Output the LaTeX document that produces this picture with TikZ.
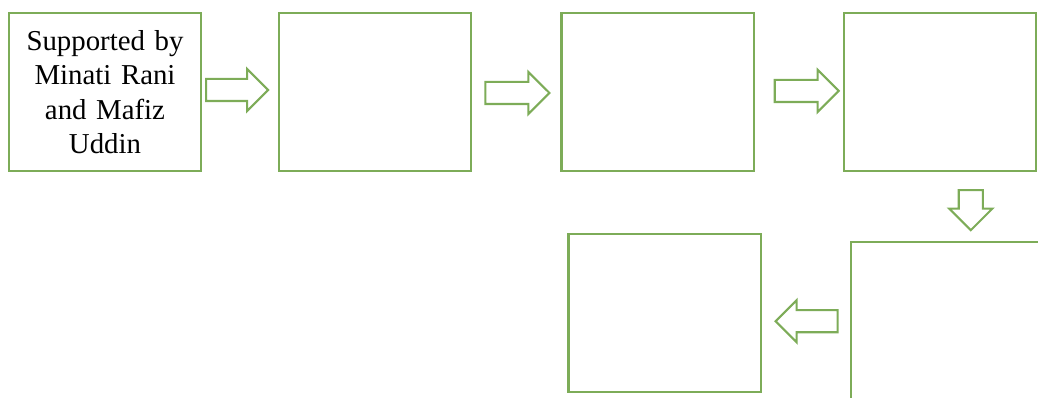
\documentclass[tikz,border=0pt]{standalone}
\usepackage{fontspec}
\setmainfont{Liberation Serif}
\usetikzlibrary{positioning,calc,shapes.arrows}
\definecolor{leaf}{RGB}{125,172,88}

\begin{document}
\begin{tikzpicture}[x=0.01cm,y=-0.01cm,
  every node/.style={inner sep=0pt},
  stagebox/.style={draw=leaf,line width=0.6pt,fill=white,minimum width=1.92cm,minimum height=1.58cm,
    font=\fontsize{8.2}{9.8}\selectfont,align=center,text width=1.7cm},
  blockarrow/.style={single arrow,draw=leaf,line width=0.6pt,fill=white,inner xsep=0pt,inner ysep=0.1cm,
    minimum width=0.4cm,single arrow head extend=0.1cm,single arrow head indent=0pt,minimum height=0.62cm}]
  \clip (0,0) rectangle (1038,398);
  \node[stagebox] (a) at (105,92) {Supported by\\Minati Rani\\and Mafiz\\Uddin};
  \node[stagebox,right=0.76cm of a] (b) {};
  \node[stagebox,right=0.88cm of b] (c) {};
  \node[stagebox,right=0.88cm of c] (d) {};
  \node[stagebox,below=0.69cm of d,xshift=0.07cm] (e) {};
  \node[stagebox,left=0.88cm of e,yshift=0.08cm] (f) {};
  % block arrows between the stages
  \node[blockarrow,right=0.03cm of a,yshift=0.02cm] (ab) {};
  \node[blockarrow,minimum height=0.64cm,right=0.12cm of b,yshift=-0.01cm] (bc) {};
  \node[blockarrow,minimum height=0.64cm,right=0.19cm of c,yshift=0.01cm] (cd) {};
  \node[blockarrow,shape border rotate=270,minimum height=0.4cm,minimum width=0.41cm,
    inner xsep=0.11cm,inner ysep=0pt,single arrow head extend=0.095cm,below=0.17cm of d,xshift=0.31cm] (de) {};
  \node[blockarrow,shape border rotate=180,minimum width=0.41cm,left=0.11cm of e] (ef) {};
\end{tikzpicture}
\end{document}
